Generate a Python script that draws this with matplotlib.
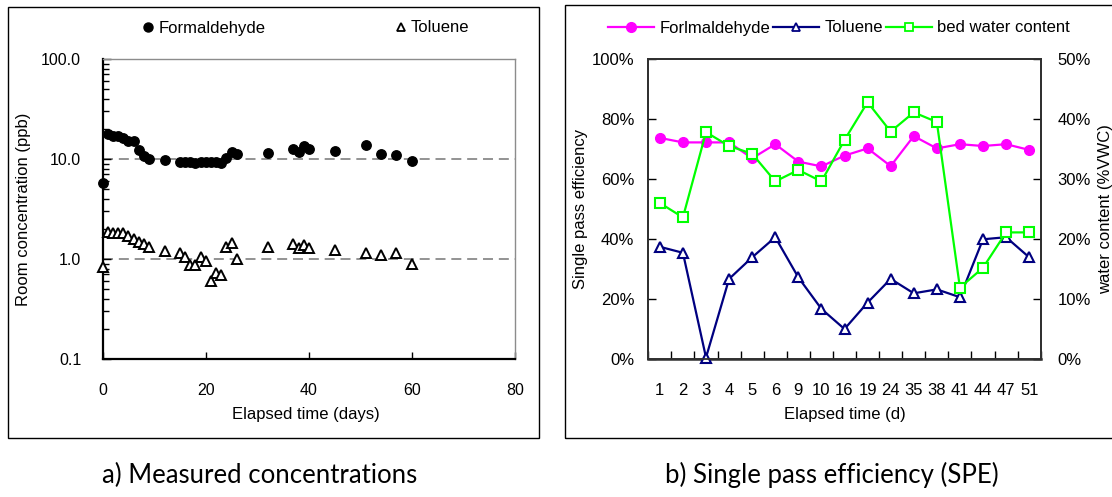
import numpy as np
import matplotlib.pyplot as plt
from matplotlib.ticker import FixedLocator, FuncFormatter, NullFormatter
from matplotlib.lines import Line2D
from matplotlib.patches import Rectangle

plt.rcParams['font.family'] = ['Liberation Sans', 'DejaVu Sans']

# a) measured room concentrations (ppb)
days = [0, 1, 2, 3, 4, 5, 6, 7, 8, 9, 12, 15, 16, 17, 18, 19, 20, 21, 22, 23,
        24, 25, 26, 32, 37, 38, 39, 40, 45, 51, 54, 57, 60]
formaldehyde_ppb = [5.7, 17.8, 17.1, 16.9, 16.3, 15.2, 15.2, 12.4, 10.6, 10.1,
                    9.8, 9.4, 9.4, 9.3, 9.1, 9.4, 9.4, 9.4, 9.4, 9.1,
                    10.3, 11.8, 11.2, 11.4, 12.5, 11.8, 13.5, 12.5, 12.0,
                    13.7, 11.3, 10.9, 9.5]
toluene_ppb = [0.83, 1.88, 1.81, 1.81, 1.81, 1.71, 1.57, 1.49, 1.41, 1.31,
               1.21, 1.16, 1.05, 0.87, 0.87, 1.05, 0.95, 0.60, 0.73, 0.69,
               1.33, 1.46, 1.0, 1.33, 1.41, 1.28, 1.38, 1.28, 1.24,
               1.14, 1.09, 1.14, 0.90]

# b) single pass efficiency (%) and bed water content (%VWC)
spe_days = ['1', '2', '3', '4', '5', '6', '9', '10', '16', '19', '24', '35',
            '38', '41', '44', '47', '51']
form_spe = [73.7, 72.2, 72.2, 72.2, 66.9, 71.6, 65.8, 64.2, 67.8, 70.2, 64.3,
            74.3, 70.2, 71.6, 71.0, 71.6, 69.7]
tol_spe = [37.4, 35.4, 0.5, 26.7, 33.9, 40.6, 27.2, 16.7, 10.0, 18.8, 26.7,
           21.9, 23.2, 20.6, 39.9, 40.6, 33.9]
water_vwc = [26.0, 23.6, 37.8, 35.5, 34.2, 29.6, 31.5, 29.6, 36.5, 42.8, 37.9,
             41.1, 39.5, 11.9, 15.2, 21.1, 21.1]

W, H = 1112, 497
fig = plt.figure(figsize=(W / 100, H / 100), dpi=100)


def fx(px):
    return px / W


def fy(py):
    return 1 - py / H


FS = 12

# ---------- panel a ----------
axl = fig.add_axes([fx(102.7), fy(359), fx(515 - 102.7), 300 / H])
axl.set_yscale('log')
axl.set_xlim(0, 80)
axl.set_ylim(0.1, 100)
for ref in (10, 1):
    axl.axhline(ref, color='#808080', lw=1.2, dashes=(6, 3.5), zorder=1)
axl.plot(days, formaldehyde_ppb, 'o', color='black', ms=6.8, clip_on=False, zorder=3)
axl.plot(days, toluene_ppb, '^', mfc='white', mec='black', mew=1.4, ms=6.5,
         clip_on=False, zorder=3)

axl.yaxis.set_major_locator(FixedLocator([0.1, 1, 10, 100]))
axl.yaxis.set_major_formatter(FuncFormatter(lambda v, p: f'{v:.1f}'))
axl.yaxis.set_minor_locator(FixedLocator([m * 10.0 ** e for e in (-1, 0, 1) for m in range(2, 10)]))
axl.yaxis.set_minor_formatter(NullFormatter())
axl.set_xticks([0, 20, 40, 60, 80])
axl.tick_params(axis='both', which='both', direction='in', labelsize=11.5, width=1)
axl.tick_params(axis='y', which='major', length=6, pad=15.5)
axl.tick_params(axis='y', which='minor', length=4)
axl.tick_params(axis='x', which='major', length=5, pad=17)
for s in ('top', 'right'):
    axl.spines[s].set_color('#8c8c8c')
    axl.spines[s].set_linewidth(1)
for s in ('left', 'bottom'):
    axl.spines[s].set_linewidth(1.6)

axl.set_ylabel('Room concentration (ppb)', fontsize=FS)
axl.yaxis.set_label_coords(fx(24), fy(209), transform=fig.transFigure)
axl.yaxis.label.set_va('center')
axl.set_xlabel('Elapsed time (days)', fontsize=FS)
axl.xaxis.set_label_coords(fx(306), fy(414), transform=fig.transFigure)
axl.xaxis.label.set_va('center')

leg_a = [Line2D([], [], ls='none', marker='o', color='black', ms=6.5),
         Line2D([], [], ls='none', marker='^', mfc='white', mec='black', mew=1.3, ms=5.5)]
fig.legend(leg_a, ['Formaldehyde', 'Toluene'], loc='center',
           bbox_to_anchor=(fx(306), fy(28)), ncol=2, frameon=False, fontsize=FS,
           handlelength=0.7, handletextpad=0.25, columnspacing=7.8)

# ---------- panel b ----------
x = np.arange(len(spe_days))
axr = fig.add_axes([fx(648.3), fy(359), fx(1040.7 - 648.3), 300 / H])
axr.plot(x, form_spe, '-o', color='#ff00ff', lw=1.6, ms=7, zorder=3)
axr.plot(x, tol_spe, '-^', color='#000080', lw=1.6, ms=7, mfc='white', mew=1.5,
         clip_on=False, zorder=3)
axr.set_xlim(-0.5, len(spe_days) - 0.5)
axr.set_ylim(0, 100)
axr.set_xticks(x)
axr.set_xticklabels(spe_days)
axr.set_xticks(np.arange(-0.5, len(spe_days)), minor=True)
axr.set_yticks(np.arange(0, 101, 20))
axr.yaxis.set_major_formatter(FuncFormatter(lambda v, p: f'{v:.0f}%'))
axr.tick_params(axis='x', which='major', length=0, pad=17, labelsize=FS)
axr.tick_params(axis='x', which='minor', direction='in', length=6, width=1)
axr.tick_params(axis='y', direction='in', length=6, width=1, pad=10, labelsize=FS)

ax2 = axr.twinx()
ax2.plot(x, water_vwc, '-s', color='#00ff00', lw=1.6, ms=7, mfc='white', mew=1.5, zorder=3)
ax2.set_ylim(0, 50)
ax2.set_yticks(np.arange(0, 51, 10))
ax2.yaxis.set_major_formatter(FuncFormatter(lambda v, p: f'{v:.0f}%'))
ax2.tick_params(axis='y', direction='in', length=6, width=1, pad=12, labelsize=FS)
for a in (axr, ax2):
    for s in a.spines.values():
        s.set_color('#303030')
        s.set_linewidth(1.3)
axr.spines['bottom'].set_linewidth(1.8)

axr.set_ylabel('Single pass efficiency', fontsize=FS)
axr.yaxis.set_label_coords(fx(581), fy(209), transform=fig.transFigure)
axr.yaxis.label.set_va('center')
ax2.set_ylabel('water content (%VWC)', fontsize=FS)
ax2.yaxis.set_label_coords(fx(1106), fy(209), transform=fig.transFigure)
ax2.yaxis.label.set_va('center')
axr.set_xlabel('Elapsed time (d)', fontsize=FS)
axr.xaxis.set_label_coords(fx(845), fy(414), transform=fig.transFigure)
axr.xaxis.label.set_va('center')

leg_b = [Line2D([], [], color='#ff00ff', lw=1.6, marker='o', ms=7),
         Line2D([], [], color='#000080', lw=1.6, marker='^', ms=6, mfc='white', mew=1.3),
         Line2D([], [], color='#00ff00', lw=1.6, marker='s', ms=6, mfc='white', mew=1.3)]
fig.legend(leg_b, ['Forlmaldehyde', 'Toluene', 'bed water content'], loc='center',
           bbox_to_anchor=(fx(839), fy(28)), ncol=3, frameon=False, fontsize=FS,
           handlelength=2.75, handletextpad=0.3, columnspacing=0.2)

# ---------- frames and captions ----------
fig.add_artist(Rectangle((fx(7.5), fy(438)), fx(531), 431 / H, transform=fig.transFigure,
                         fill=False, ec='black', lw=1))
fig.add_artist(Rectangle((fx(564.5), fy(438)), fx(600), 433 / H, transform=fig.transFigure,
                         fill=False, ec='black', lw=1))
fig.text(fx(260), fy(475), 'a) Measured concentrations', ha='center', va='center',
         fontsize=18.5, family=['Lato', 'DejaVu Sans'])
fig.text(fx(832), fy(475), 'b) Single pass efficiency (SPE)', ha='center', va='center',
         fontsize=18.5, family=['Lato', 'DejaVu Sans'])

fig.savefig('out.png', dpi=100)
